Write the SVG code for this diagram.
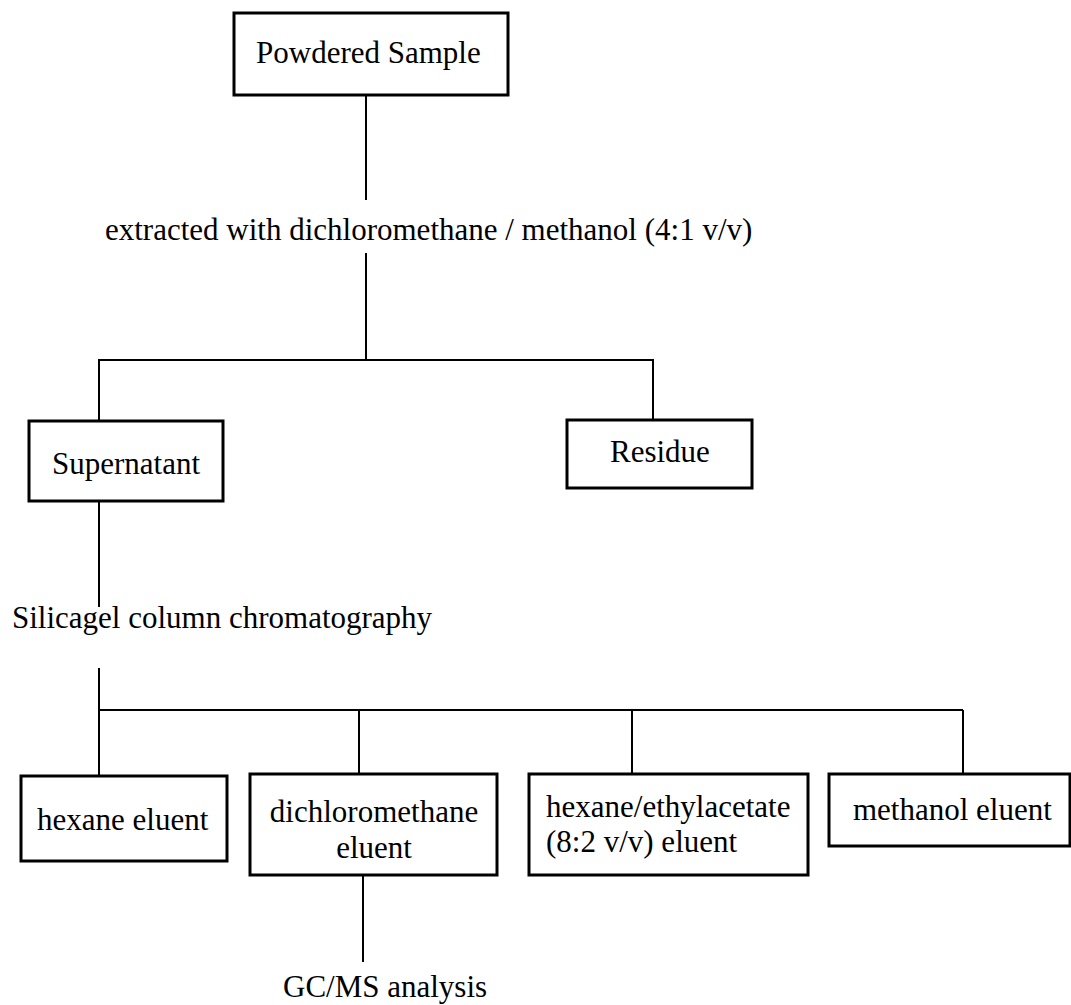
<svg xmlns="http://www.w3.org/2000/svg" width="1071" height="1005" viewBox="0 0 1071 1005">
<style>
.box{fill:#fff;stroke:#000;stroke-width:3}
.ln{fill:none;stroke:#000;stroke-width:2}
text{font-family:"Liberation Serif","Times New Roman",serif;font-size:31px;fill:#000}
</style>
<rect width="1071" height="1005" fill="#fff"/>
<g id="connectors">
<line class="ln" x1="366" y1="95" x2="366" y2="200"/>
<line class="ln" x1="366" y1="253" x2="366" y2="360"/>
<polyline class="ln" points="99,421 99,360 653,360 653,420"/>
<line class="ln" x1="99" y1="501" x2="99" y2="607"/>
<line class="ln" x1="99" y1="668" x2="99" y2="776"/>
<line class="ln" x1="99" y1="710" x2="963" y2="710"/>
<line class="ln" x1="359" y1="710" x2="359" y2="774"/>
<line class="ln" x1="632" y1="710" x2="632" y2="774"/>
<line class="ln" x1="963" y1="710" x2="963" y2="774"/>
<line class="ln" x1="363" y1="875" x2="363" y2="962"/>
</g>
<g id="powdered">
<rect class="box" x="234" y="13" width="274" height="82"/>
<text x="256" y="63">Powdered Sample</text>
</g>
<g id="extract">
<text x="105" y="240">extracted with dichloromethane / methanol (4:1 v/v)</text>
</g>
<g id="supernatant">
<rect class="box" x="29" y="421" width="194" height="80"/>
<text x="52" y="474">Supernatant</text>
</g>
<g id="residue">
<rect class="box" x="567" y="420" width="185" height="68"/>
<text x="610" y="462">Residue</text>
</g>
<g id="silica">
<text x="12" y="628">Silicagel column chromatography</text>
</g>
<g id="hexane">
<rect class="box" x="21" y="776" width="206" height="85"/>
<text x="37" y="830">hexane eluent</text>
</g>
<g id="dcm">
<rect class="box" x="250" y="774" width="247" height="101"/>
<text x="374" y="822" text-anchor="middle">dichloromethane</text>
<text x="374" y="858" text-anchor="middle">eluent</text>
</g>
<g id="hexea">
<rect class="box" x="529" y="774" width="279" height="101"/>
<text x="546" y="817">hexane/ethylacetate</text>
<text x="546" y="852">(8:2 v/v) eluent</text>
</g>
<g id="methanol">
<rect class="box" x="829" y="774" width="241" height="72"/>
<text x="853" y="820">methanol eluent</text>
</g>
<g id="gcms">
<text x="283" y="997">GC/MS analysis</text>
</g>
</svg>
